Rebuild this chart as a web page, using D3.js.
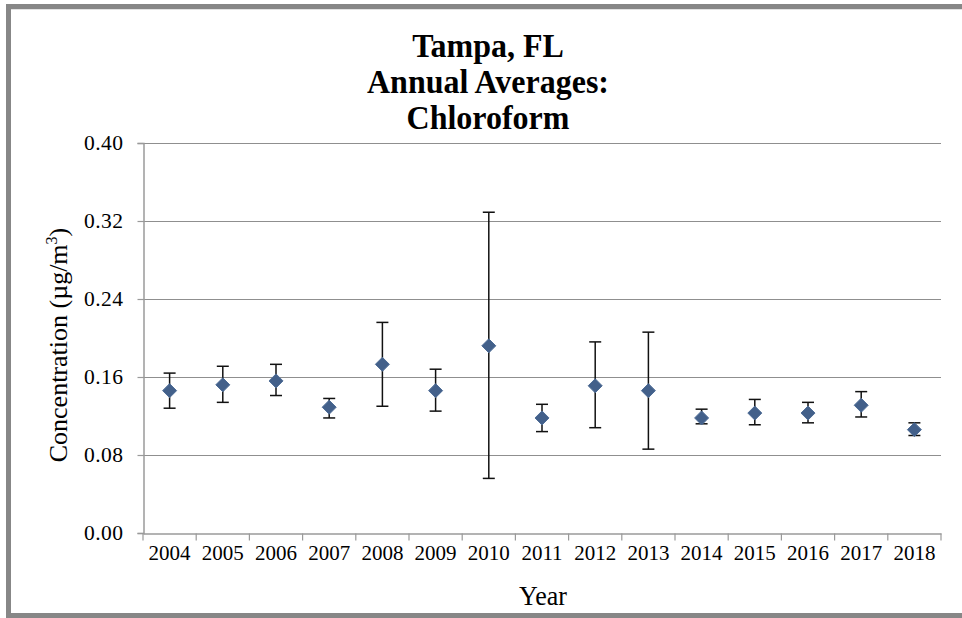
<!DOCTYPE html>
<html>
<head>
<meta charset="utf-8">
<script src="https://cdn.jsdelivr.net/npm/d3@7"></script>
<style>
  html, body { margin: 0; padding: 0; background: #fff; }
  svg { display: block; }
  text { font-family: "Liberation Serif", "Times New Roman", serif; fill: #000; }
</style>
</head>
<body>
<svg id="chart" width="962" height="618"></svg>
<script>
// ---- data ----
const years = ["2004","2005","2006","2007","2008","2009","2010","2011","2012","2013","2014","2015","2016","2017","2018"];
const means = [0.146,0.152,0.156,0.129,0.173,0.146,0.192,0.118,0.151,0.146,0.118,0.123,0.123,0.131,0.106];
const upper = [0.164,0.171,0.173,0.138,0.216,0.168,0.329,0.132,0.196,0.206,0.127,0.137,0.134,0.145,0.113];
const lower = [0.128,0.134,0.141,0.118,0.130,0.125,0.056,0.104,0.108,0.086,0.112,0.111,0.113,0.119,0.100];
const yTicks = [0, 0.08, 0.16, 0.24, 0.32, 0.40];
const titleLines = ["Tampa, FL", "Annual Averages:", "Chloroform"];

(function () {
const svg = d3.select("#chart");

// outer frame
svg.append("rect").attr("x", 8.5).attr("y", 6.5).attr("width", 1000).attr("height", 609)
  .attr("fill", "none").attr("stroke", "#878787").attr("stroke-width", 5);
svg.append("line").attr("x1", 11).attr("x2", 962).attr("y1", 9.5).attr("y2", 9.5)
  .attr("stroke", "#e2e2e2").attr("stroke-width", 1);

const pL = 143, pR = 941, pT = 143, pB = 533;
const x = d3.scaleBand().domain(years).range([pL, pR]).padding(0);
const y = d3.scaleLinear().domain([0, 0.40]).range([pB, pT]);

// gridlines
svg.append("g").selectAll("line").data(yTicks.filter(d => d > 0)).join("line")
  .attr("x1", pL).attr("x2", pR)
  .attr("y1", d => Math.round(y(d)) + 0.5).attr("y2", d => Math.round(y(d)) + 0.5)
  .attr("stroke", "#8f8f8f").attr("stroke-width", 1.2);

// y axis
const yAxis = svg.append("g").attr("transform", `translate(${pL + 0.5},0)`)
  .call(d3.axisLeft(y).tickValues(yTicks).tickFormat(d3.format(".2f")).tickSize(6).tickPadding(14));
yAxis.select(".domain").attr("stroke", "#9a9a9a").attr("stroke-width", 1.5);
yAxis.selectAll(".tick line").attr("stroke", "#9a9a9a").attr("stroke-width", 1.2);
yAxis.selectAll(".tick text").style("font-family", "Liberation Serif, serif").style("font-size", "21.5px")
  .style("letter-spacing", "0.5px").attr("fill", "#000");

// x axis
const xAxis = svg.append("g").attr("transform", `translate(0,${pB + 0.5})`)
  .call(d3.axisBottom(x).tickSize(0).tickPadding(12));
xAxis.select(".domain").attr("stroke", "#9a9a9a").attr("stroke-width", 1.5);
xAxis.selectAll(".tick text").style("font-family", "Liberation Serif, serif").style("font-size", "21px").attr("fill", "#000");
const edges = years.map(d => x(d)).concat([x(years[years.length - 1]) + x.bandwidth()]);
xAxis.append("g").selectAll("line").data(edges).join("line")
  .attr("x1", d => d).attr("x2", d => d).attr("y1", 0).attr("y2", 7)
  .attr("stroke", "#9a9a9a").attr("stroke-width", 1.2);

// error bars
const cx = d => x(d) + x.bandwidth() / 2;
const eb = svg.append("g").attr("stroke", "#111").attr("stroke-width", 1.5);
years.forEach((yr, i) => {
  const c = cx(yr);
  eb.append("line").attr("x1", c).attr("x2", c).attr("y1", y(upper[i])).attr("y2", y(lower[i]));
  eb.append("line").attr("x1", c - 6).attr("x2", c + 6).attr("y1", y(upper[i])).attr("y2", y(upper[i]));
  eb.append("line").attr("x1", c - 6).attr("x2", c + 6).attr("y1", y(lower[i])).attr("y2", y(lower[i]));
});

// diamond markers
const sym = d3.symbol().type(d3.symbolDiamond2).size(125);
svg.append("g").selectAll("path").data(years).join("path")
  .attr("transform", (d, i) => `translate(${cx(d)},${y(means[i])})`)
  .attr("d", sym)
  .attr("fill", "#43608a").attr("stroke", "#4d6c96").attr("stroke-width", 1);

// title
svg.append("g").selectAll("text").data(titleLines).join("text")
  .attr("transform", (d, i) => `translate(488,${57 + i * 36}) scale(1,1.08)`)
  .attr("text-anchor", "middle")
  .style("font-size", "32px").style("font-weight", "bold")
  .text(d => d);

// axis titles
svg.append("text").attr("transform", "translate(543,605) scale(1,1.08)").attr("text-anchor", "middle")
  .style("font-size", "26px").text("Year");

const yl = svg.append("text").attr("transform", "translate(67,345) rotate(-90)")
  .attr("text-anchor", "middle").style("font-size", "26px");
yl.append("tspan").text("Concentration (µg/m");
yl.append("tspan").attr("dy", -10).style("font-size", "16px").text("3");
yl.append("tspan").attr("dy", 10).text(")");
})();
</script>
</body>
</html>
